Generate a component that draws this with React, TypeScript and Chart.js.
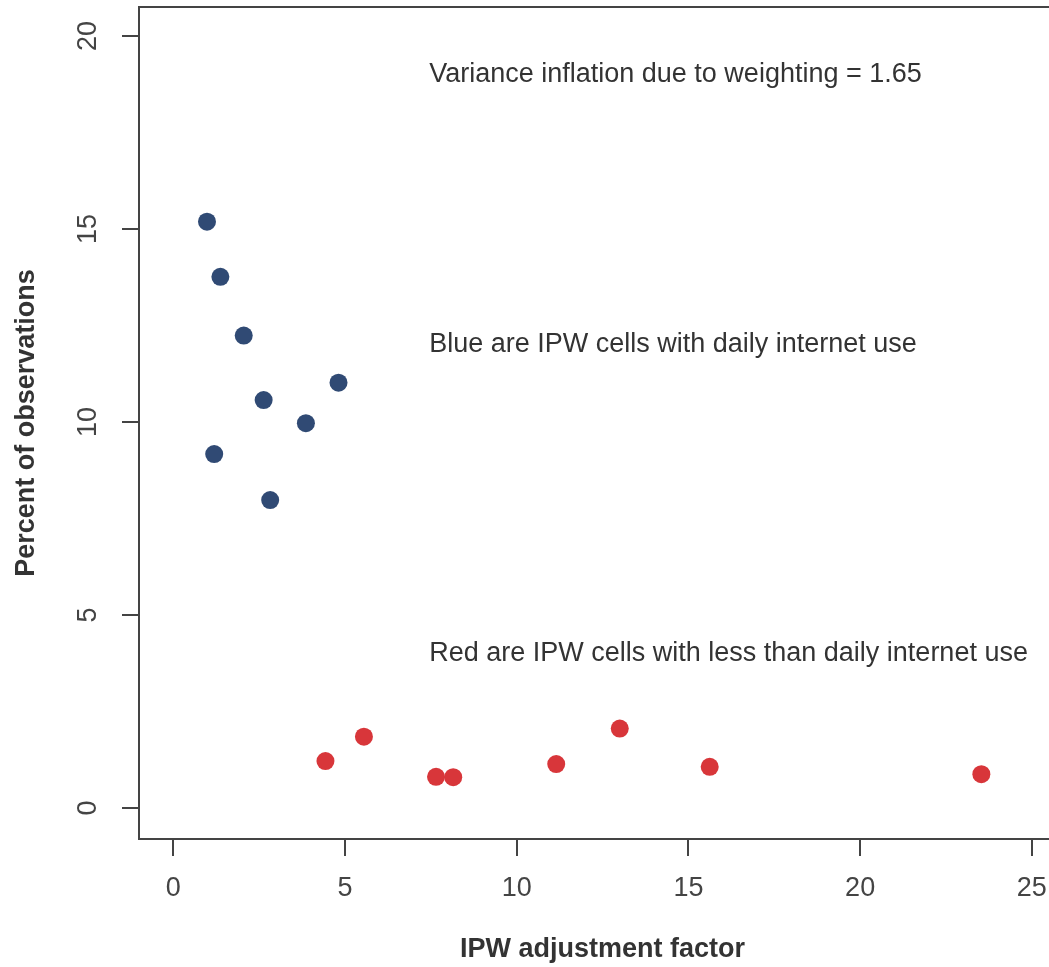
import React, { useEffect, useRef } from "react";
import { Chart, registerables } from "chart.js";

Chart.register(...registerables);

const blueX = [0.98, 1.37, 2.05, 4.81, 2.63, 3.86, 1.19, 2.82];
const blueY = [15.19, 13.76, 12.24, 11.02, 10.57, 9.97, 9.17, 7.98];
const redX = [4.43, 5.55, 7.65, 8.15, 11.15, 13.0, 15.62, 23.53];
const redY = [1.22, 1.85, 0.81, 0.8, 1.14, 2.06, 1.07, 0.88];
const xTicks = [0, 5, 10, 15, 20, 25];
const yTicks = [0, 5, 10, 15, 20];
const notes = [
  { x: 7.45, y: 19, text: "Variance inflation due to weighting = 1.65" },
  { x: 7.45, y: 12, text: "Blue are IPW cells with daily internet use" },
  { x: 7.45, y: 4, text: "Red are IPW cells with less than daily internet use" },
];
const xTitle = "IPW adjustment factor";
const yTitle = "Percent of observations";

const FONT = "'Liberation Sans', Arial, sans-serif";
const AXIS = "#444444";
const FS = 27;

export default function App() {
  const ref = useRef<HTMLCanvasElement>(null);
  useEffect(() => {
    if (!ref.current) return;
    const overlay = {
      id: "overlay",
      afterDraw(chart: any) {
        const ctx = chart.ctx;
        const a = chart.chartArea;
        const xs = chart.scales.x;
        const ys = chart.scales.y;
        ctx.save();
        ctx.strokeStyle = AXIS;
        ctx.lineWidth = 2;
        ctx.beginPath();
        ctx.moveTo(chart.width + 5, a.top);
        ctx.lineTo(a.left, a.top);
        ctx.lineTo(a.left, a.bottom);
        ctx.lineTo(chart.width + 5, a.bottom);
        ctx.stroke();
        ctx.fillStyle = AXIS;
        ctx.font = `${FS}px ${FONT}`;
        ctx.textAlign = "center";
        ctx.textBaseline = "middle";
        ys.ticks.forEach((t: any) => {
          const py = ys.getPixelForValue(t.value);
          ctx.save();
          ctx.translate(89, py);
          ctx.rotate(-Math.PI / 2);
          ctx.fillText(String(t.value), 0, 0);
          ctx.restore();
        });
        ctx.fillStyle = "#333333";
        ctx.font = `bold ${FS}px ${FONT}`;
        ctx.save();
        ctx.translate(27, (a.top + a.bottom) / 2);
        ctx.rotate(-Math.PI / 2);
        ctx.fillText(yTitle, 0, 0);
        ctx.restore();
        ctx.fillText(xTitle, xs.getPixelForValue(12.5), 950);
        ctx.font = `${FS}px ${FONT}`;
        ctx.textAlign = "left";
        notes.forEach((n) => {
          ctx.fillText(n.text, xs.getPixelForValue(n.x), ys.getPixelForValue(n.y));
        });
        ctx.restore();
      },
    };
    const chart = new Chart(ref.current, {
      type: "scatter",
      data: {
        datasets: [
          {
            data: blueX.map((x, i) => ({ x, y: blueY[i] })),
            backgroundColor: "#304A74",
            borderWidth: 0,
            pointRadius: 9,
          },
          {
            data: redX.map((x, i) => ({ x, y: redY[i] })),
            backgroundColor: "#D8363A",
            borderWidth: 0,
            pointRadius: 9,
          },
        ],
      },
      options: {
        responsive: false,
        animation: false,
        layout: { autoPadding: false, padding: { top: 7, left: 0, right: 0, bottom: 0 } },
        plugins: { legend: { display: false }, tooltip: { enabled: false } },
        scales: {
          x: {
            type: "linear",
            position: "bottom",
            min: -1,
            max: 25.5,
            afterFit: (s: any) => {
              s.height = 128;
              s.paddingLeft = 0;
              s.paddingRight = 0;
            },
            afterBuildTicks: (s: any) => {
              s.ticks = xTicks.map((v) => ({ value: v }));
            },
            border: { display: false },
            grid: {
              drawOnChartArea: false,
              drawTicks: true,
              tickLength: 17,
              color: AXIS,
              lineWidth: 2,
            },
            ticks: {
              color: AXIS,
              font: { size: FS, family: FONT },
              padding: 16,
              maxRotation: 0,
            },
          },
          y: {
            type: "linear",
            min: -0.8,
            max: 20.75,
            afterFit: (s: any) => {
              s.width = 139;
              s.paddingTop = 0;
              s.paddingBottom = 0;
            },
            afterBuildTicks: (s: any) => {
              s.ticks = yTicks.map((v) => ({ value: v }));
            },
            border: { display: false },
            grid: {
              drawOnChartArea: false,
              drawTicks: true,
              tickLength: 17,
              color: AXIS,
              lineWidth: 2,
            },
            ticks: { display: false },
          },
        },
      },
      plugins: [overlay],
    });
    return () => chart.destroy();
  }, []);
  return (
    <div style={{ position: "absolute", left: 0, top: 0, width: 1049, height: 967, background: "#fff" }}>
      <canvas ref={ref} width={1049} height={967} style={{ width: 1049, height: 967, display: "block" }} />
    </div>
  );
}
